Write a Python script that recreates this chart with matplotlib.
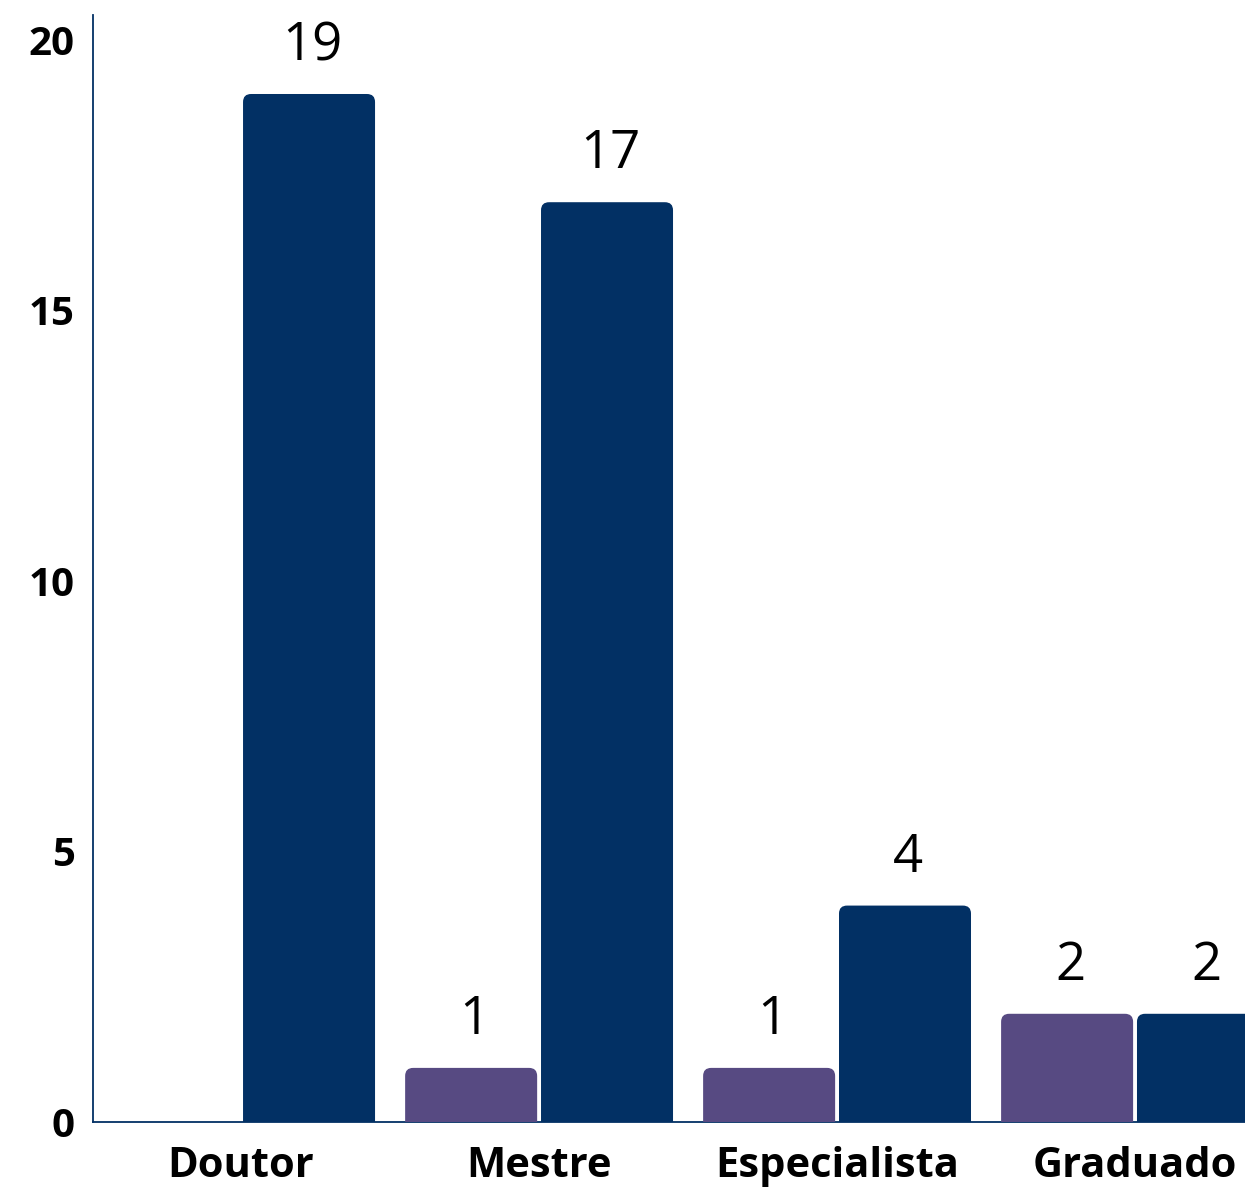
import matplotlib
matplotlib.use("Agg")
import matplotlib.pyplot as plt
from matplotlib.patches import FancyBboxPatch
import numpy as np

categories = ["Doutor", "Mestre", "Especialista", "Graduado"]
series_a = [0, 1, 1, 2]      # purple
series_b = [19, 17, 4, 2]    # navy
yticks = [0, 5, 10, 15, 20]

purple = "#574A82"
navy = "#023064"

plt.rcParams['font.family'] = ['Open Sans', 'DejaVu Sans']

W, H = 1245, 1189
fig = plt.figure(figsize=(W/100, H/100), dpi=100)
ax = fig.add_axes([93/W, (H-1122)/H, 1 - 93/W, (1122-15)/H])

x = np.arange(len(categories))
off = 0.228
bw = 0.443
bars_a = ax.bar(x - off, series_a, bw, color=purple)
bars_b = ax.bar(x + off, series_b, bw, color=navy)

ax.set_xlim(-0.497, 3.369)
ax.set_ylim(0, 20.46)

# rounded tops
rx = 0.027
ry_per_rx = (8/54.1) / rx
for bars, col, vals in ((bars_a, purple, series_a), (bars_b, navy, series_b)):
    for rect, v in zip(bars, vals):
        rect.set_visible(False)
        if v <= 0:
            continue
        x0, w = rect.get_x(), rect.get_width()
        h = rect.get_height()
        p = FancyBboxPatch((x0, -0.5), w, h + 0.5,
                           boxstyle=f"round,pad=0,rounding_size={rx}",
                           mutation_aspect=ry_per_rx,
                           facecolor=col, edgecolor='none', zorder=3,
                           clip_on=True)
        ax.add_patch(p)
        ax.annotate(str(v), (x0 + w/2 + 0.01, h), xytext=(0, 15), textcoords='offset points',
                    ha='center', va='bottom', fontsize=38, color='black')

for s in ("top", "right"):
    ax.spines[s].set_visible(False)
for s in ("left", "bottom"):
    ax.spines[s].set_color(navy)
    ax.spines[s].set_linewidth(1.3)

ax.set_xticks(x)
ax.set_xticklabels(categories, fontsize=30, fontweight='bold')
ax.set_yticks(yticks)
ax.set_yticklabels([str(t) for t in yticks], fontsize=29, fontweight='bold')
ax.tick_params(axis='x', length=0, pad=17)
ax.tick_params(axis='y', length=0, pad=13)

fig.savefig("out.png", dpi=100)
